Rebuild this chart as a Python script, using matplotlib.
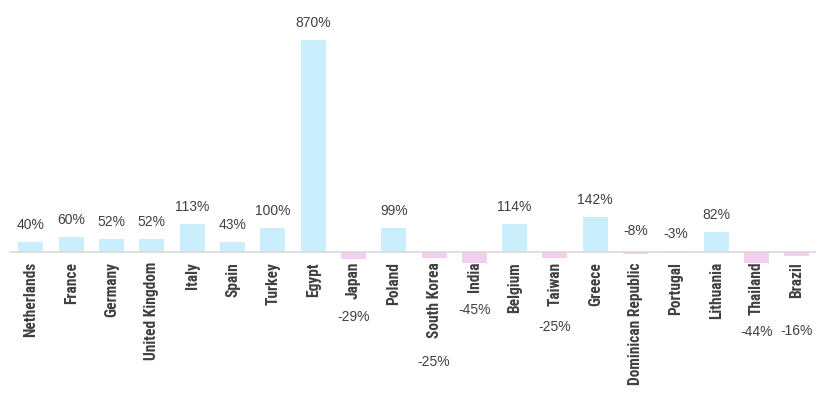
import matplotlib
matplotlib.use("Agg")
import matplotlib.pyplot as plt
from matplotlib import font_manager

countries = ["Netherlands", "France", "Germany", "United Kingdom", "Italy", "Spain",
             "Turkey", "Egypt", "Japan", "Poland", "South Korea", "India", "Belgium",
             "Taiwan", "Greece", "Dominican Republic", "Portugal", "Lithuania",
             "Thailand", "Brazil"]
values = [40, 60, 52, 52, 113, 43, 100, 870, -29, 99, -25, -45, 114, -25, 142, -8, -3, 82, -44, -16]
# label offsets for negative values (pixels below axis; negative = above)
neg_label_offset = {"Japan": 65, "South Korea": 110, "India": 58, "Taiwan": 75,
                    "Dominican Republic": -21, "Portugal": -18, "Thailand": 80, "Brazil": 79}

pos_color = "#CAEEFB"
neg_color = "#F2CEEF"

names = {f.name for f in font_manager.fontManager.ttflist}
cat_font = "DejaVu Sans"
for cand in ["Aptos Narrow", "Arial Narrow", "Liberation Sans Narrow", "Roboto Condensed",
             "Archivo Narrow", "PT Sans Narrow", "IBM Plex Sans Condensed",
             "Open Sans Condensed"]:
    if cand in names:
        cat_font = cand
        break
val_font = "Liberation Sans"

dpi = 100
fig = plt.figure(figsize=(8.25, 3.97), dpi=dpi)
ax = fig.add_axes([0, 0, 1, 1])
ax.set_xlim(-0.769, 19.70)
ax.set_ylim(-595, 1034)
ax.axis("off")

x = list(range(len(countries)))
colors = [pos_color if v >= 0 else neg_color for v in values]
ax.bar(x, values, width=0.62, color=colors, zorder=2)
ax.axhline(0, xmin=(-0.52 + 0.769) / 20.469, xmax=(19.45 + 0.769) / 20.469,
           color="#D9D9D9", lw=1.2, zorder=3)

px = 72 / dpi
for i, (c, v) in enumerate(zip(countries, values)):
    ax.annotate(c, (i, 0), xytext=(0, -10 * px), textcoords="offset points",
                rotation=90, ha="center", va="top", fontsize=11.2, fontweight="bold",
                family=cat_font, color="#404040")
    if v >= 0:
        ax.annotate(f"{v}%", (i, v), xytext=(0, 17 * px), textcoords="offset points",
                    ha="center", va="center", fontsize=10, family=val_font, color="#404040")
    else:
        off = neg_label_offset[c]
        ax.annotate(f"{v}%", (i, 0), xytext=(0, -off * px), textcoords="offset points",
                    ha="center", va="center", fontsize=10, family=val_font, color="#404040")

fig.savefig("out.png", dpi=dpi)
